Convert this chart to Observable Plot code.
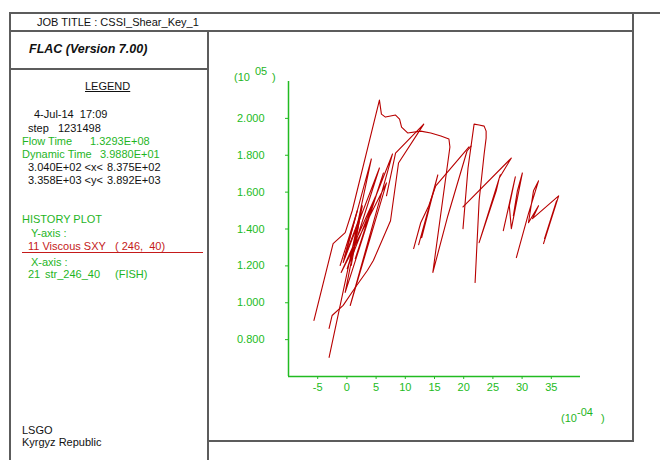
<!DOCTYPE html>
<html>
<head>
<meta charset="utf-8">
<script src="https://cdn.jsdelivr.net/npm/d3@7"></script>
<script src="https://cdn.jsdelivr.net/npm/@observablehq/plot@0.6"></script>
<style>
  body { margin: 0; background: white; }
  #page { position: relative; width: 660px; height: 460px; background: white;
          font-family: "Liberation Sans", Arial, sans-serif; font-size: 11px; color: #111; }
  .ln { position: absolute; background: #5c5c5c; }
  .t { position: absolute; white-space: pre; line-height: 13px; }
  .g { color: #1fb51f; }
  .r { color: #c41a1a; }
</style>
</head>
<body>
<div id="page">
  <div class="ln" style="left:9px;top:12px;width:651px;height:2px"></div>
  <div class="ln" style="left:9px;top:30px;width:625px;height:2px"></div>
  <div class="ln" style="left:9px;top:12px;width:2px;height:448px"></div>
  <div class="ln" style="left:207px;top:30px;width:2px;height:430px"></div>
  <div class="ln" style="left:9px;top:68px;width:199px;height:2px"></div>
  <div class="ln" style="left:632px;top:12px;width:2px;height:430px"></div>
  <div class="ln" style="left:207px;top:440px;width:427px;height:2px"></div>

  <div class="t" style="left:37px;top:16px">JOB TITLE : CSSI_Shear_Key_1</div>
  <div class="t" style="left:29px;top:43px;font-size:12.5px;font-weight:bold;font-style:italic">FLAC (Version 7.00)</div>
  <div class="t" style="left:85px;top:80px;text-decoration:underline">LEGEND</div>
  <div class="t" style="left:34px;top:108px">4-Jul-14  17:09</div>
  <div class="t" style="left:28px;top:122px">step</div>
  <div class="t" style="left:58px;top:122px">1231498</div>
  <div class="t g" style="left:22px;top:135px">Flow Time</div>
  <div class="t g" style="left:90px;top:135px">1.3293E+08</div>
  <div class="t g" style="left:22px;top:148px">Dynamic Time</div>
  <div class="t g" style="left:100px;top:148px">3.9880E+01</div>
  <div class="t" style="left:28px;top:161px">3.040E+02 &lt;x&lt;</div>
  <div class="t" style="left:107px;top:161px">8.375E+02</div>
  <div class="t" style="left:28px;top:174px">3.358E+03 &lt;y&lt;</div>
  <div class="t" style="left:107px;top:174px">3.892E+03</div>
  <div class="t g" style="left:22px;top:213px">HISTORY PLOT</div>
  <div class="t g" style="left:31px;top:227px">Y-axis :</div>
  <div class="t r" style="left:28px;top:240px">11 Viscous SXY</div>
  <div class="t r" style="left:115px;top:240px">( 246,  40)</div>
  <div style="position:absolute;left:22px;top:252px;width:181px;height:1px;background:#c41a1a"></div>
  <div class="t g" style="left:31px;top:256px">X-axis :</div>
  <div class="t g" style="left:28px;top:268px">21</div>
  <div class="t g" style="left:45px;top:268px">str_246_40</div>
  <div class="t g" style="left:115px;top:268px">(FISH)</div>
  <div class="t" style="left:22px;top:424px">LSGO</div>
  <div class="t" style="left:22px;top:436px">Kyrgyz Republic</div>

  <div class="t g" style="left:234px;top:71px">(10</div>
  <div class="t g" style="left:255px;top:65px">05</div>
  <div class="t g" style="left:272px;top:71px">)</div>
  <div class="t g" style="left:561px;top:412px">(10</div>
  <div class="t g" style="left:577px;top:406px">-04</div>
  <div class="t g" style="left:601px;top:412px">)</div>

  <div id="chart" style="position:absolute;left:208px;top:31px"></div>
</div>
<script>
// History of 11 Viscous SXY (x1e5) vs 21 str_246_40 (x1e-4), read as segments of [x, y]
const loopMain = [[-5.64,0.904],[-2.36,1.321],[-0.29,1.380],[0.91,1.499],[5.57,2.099],[5.91,2.023],[6.60,2.007],[8.33,2.018],[9.02,1.996],[9.36,1.953],[10.40,1.921],[12.64,1.931],[14.36,1.921],[16.09,1.904],[17.47,1.888],[17.64,1.845],[14.71,1.164],[17.29,1.472],[20.57,1.823],[21.26,1.850]];
const loopSecond = [[19.88,1.402],[20.74,1.731],[21.78,1.969],[22.64,1.964],[23.50,1.958],[23.84,1.931],[23.84,1.893],[23.50,1.807],[22.64,1.553],[21.95,1.110]];
const branchA = [[11.43,1.294],[12.64,1.434],[14.02,1.526],[15.22,1.634],[20.91,1.845]];
const branchB = [[12.29,1.315],[15.57,1.693],[12.81,1.353]];
const branchC = [[19.88,1.520],[28.16,1.785],[26.09,1.677],[25.57,1.607],[22.64,1.326],[26.26,1.694]];
const branchD = [[26.78,1.391],[28.84,1.683],[27.81,1.526],[28.16,1.402],[30.05,1.704],[29.19,1.607],[28.50,1.472]];
const branchE = [[29.02,1.245],[31.09,1.483],[32.81,1.661],[31.95,1.607],[31.09,1.434],[32.81,1.526],[31.78,1.456],[36.26,1.580],[33.67,1.321],[35.91,1.553],[33.84,1.348]];
const bundle = [[-3.05,0.704],[4.19,1.780],[-0.64,1.218],[5.57,1.731],[0.05,1.185],[7.81,1.807],[0.57,0.985],[6.78,1.650],[-0.98,1.164],[4.88,1.575],[1.43,1.239],[6.26,1.704],[-0.29,1.056],[2.64,1.526],[0.40,1.218]];
const kinked = [[6.78,1.580],[8.33,1.812],[13.16,1.969],[8.84,1.758],[7.47,1.445],[4.53,1.229],[3.50,1.175],[1.43,1.083],[-0.64,0.986],[-2.53,0.931],[-3.05,0.861]];
const cluster = [[-1.16,1.202],[1.78,1.499],[-0.47,1.239],[2.29,1.472],[0.74,1.202]];

const xTicks = [-5, 0, 5, 10, 15, 20, 25, 30, 35];
const yTicks = [0.8, 1.0, 1.2, 1.4, 1.6, 1.8, 2.0];

const segments = {loopMain, loopSecond, branchA, branchB, branchC, branchD, branchE, bundle, kinked, cluster};
const data = Object.entries(segments).flatMap(([seg, pts]) => pts.map(([x, y]) => ({seg, x, y})));

const green = "#22bb22";
const chart = Plot.plot({
  width: 425,
  height: 410,
  marginLeft: 80,
  marginRight: 53,
  marginTop: 50,
  marginBottom: 65,
  style: {background: "transparent", fontFamily: "'Liberation Sans', Arial, sans-serif", fontSize: "11px", overflow: "visible"},
  x: {domain: [-10, 40]},
  y: {domain: [0.6, 2.2]},
  marks: [
    Plot.ruleX([-10], {stroke: green, strokeWidth: 1.5}),
    Plot.ruleY([0.6], {stroke: green, strokeWidth: 1.5}),
    Plot.axisX({ticks: xTicks, tickSize: 3, tickPadding: 4, stroke: green, fill: green, label: null, tickFormat: (d) => String(d)}),
    Plot.axisY({ticks: yTicks, tickSize: 3, tickPadding: 21, stroke: green, fill: green, label: null, tickFormat: d3.format(".3f")}),
    Plot.line(data, {x: "x", y: "y", z: "seg", stroke: "#b80000", strokeWidth: 1.1})
  ]
});
document.getElementById("chart").appendChild(chart);
</script>
</body>
</html>
